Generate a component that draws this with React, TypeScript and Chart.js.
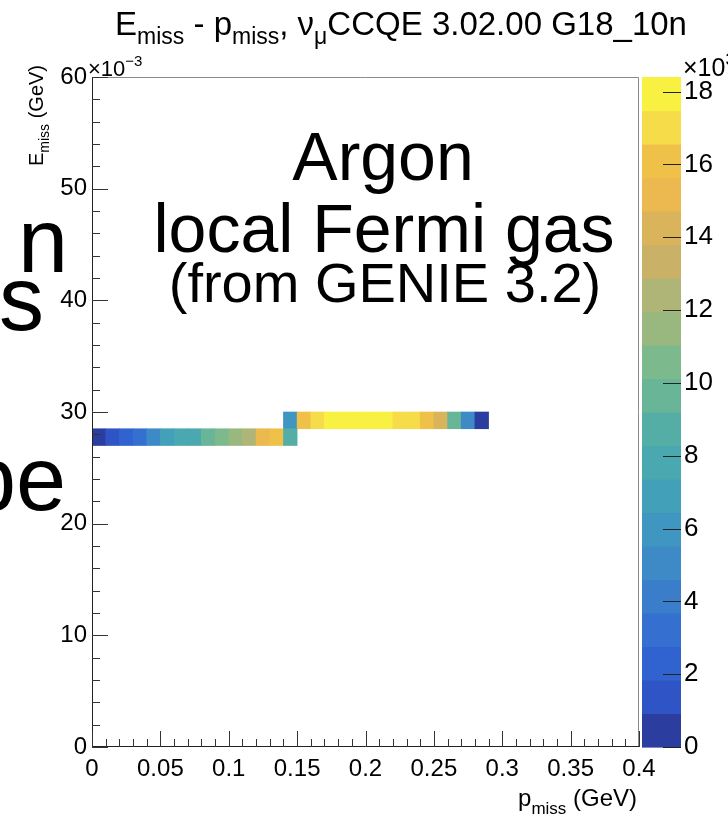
import React, { useEffect, useRef } from "react";
import { Chart, registerables } from "chart.js";

Chart.register(...registerables);

const FONT = '"Liberation Sans", Arial, Helvetica, sans-serif';

// p_miss bin centres (GeV), 10 MeV bins
const lowerRowPMiss = [0.005, 0.015, 0.025, 0.035, 0.045, 0.055, 0.065, 0.075, 0.085, 0.095, 0.105, 0.115, 0.125, 0.135, 0.145];
// E_miss band edges (x10^-3 GeV)
const lowerRowEMiss = [27.0, 28.5];
// entries per bin (x10^3)
const lowerRowCounts = [0.6, 1.4, 2.3, 3.2, 4.7, 6.6, 7.6, 8.0, 9.3, 10.8, 11.5, 12.5, 15.2, 16.0, 8.4];

const upperRowPMiss = [0.145, 0.155, 0.165, 0.175, 0.185, 0.195, 0.205, 0.215, 0.225, 0.235, 0.245, 0.255, 0.265, 0.275, 0.285];
const upperRowEMiss = [28.5, 30.0];
const upperRowCounts = [5.8, 16.3, 17.0, 18.0, 18.2, 18.3, 18.1, 17.9, 17.4, 17.3, 16.1, 14.2, 9.6, 5.0, 0.8];

const pMissTickLabels = ["0", "0.05", "0.1", "0.15", "0.2", "0.25", "0.3", "0.35", "0.4"];
const eMissTickLabels = ["0", "10", "20", "30", "40", "50", "60"];
const countTickLabels = ["0", "2", "4", "6", "8", "10", "12", "14", "16", "18"];
const COUNT_MAX = 18.4;

// 20-level palette, low to high
const paletteColors = [
  "#2b3d9f", "#2e54c6", "#3062d0", "#3570d0", "#3a7ecb",
  "#3d8ac6", "#3f96c0", "#42a0b8", "#4aa8b0", "#55aea6",
  "#68b598", "#7cb98c", "#98b880", "#aeb576", "#c9b268",
  "#dab45b", "#ebb94f", "#efc148", "#f7dc4a", "#f9f141",
];

const colorFor = (v: number) => {
  const n = paletteColors.length;
  const idx = Math.max(0, Math.min(n - 1, Math.floor((v / COUNT_MAX) * n)));
  return paletteColors[idx];
};

type Seg = { t: string; size: number; dy: number };

function drawRich(ctx: CanvasRenderingContext2D, segs: Seg[], x: number, y: number, align: "left" | "center" | "right") {
  ctx.textBaseline = "alphabetic";
  ctx.textAlign = "left";
  const widths = segs.map((s) => {
    ctx.font = `${s.size}px ${FONT}`;
    return ctx.measureText(s.t).width;
  });
  const total = widths.reduce((a, b) => a + b, 0);
  let cx = align === "left" ? x : align === "center" ? x - total / 2 : x - total;
  segs.forEach((s, i) => {
    ctx.font = `${s.size}px ${FONT}`;
    ctx.fillText(s.t, cx, y + s.dy);
    cx += widths[i];
  });
}

const rootStyle = {
  id: "rootStyle",
  beforeDraw(chart: any) {
    const { ctx, width, height } = chart;
    ctx.save();
    ctx.fillStyle = "#ffffff";
    ctx.fillRect(0, 0, width, height);
    ctx.restore();
  },
  afterDatasetsDraw(chart: any) {
    const { ctx, chartArea: a, scales } = chart;
    const xs = scales.x;
    const ys = scales.y;
    const zs = scales.z;
    ctx.save();

    // frame
    ctx.lineWidth = 1;
    ctx.strokeStyle = "#8a8a8a";
    ctx.beginPath();
    ctx.moveTo(a.left, a.top + 0.5);
    ctx.lineTo(a.right - 0.5, a.top + 0.5);
    ctx.lineTo(a.right - 0.5, a.bottom);
    ctx.stroke();
    ctx.strokeStyle = "#222";
    ctx.beginPath();
    ctx.moveTo(a.left + 0.5, a.top);
    ctx.lineTo(a.left + 0.5, a.bottom - 0.5);
    ctx.lineTo(a.right, a.bottom - 0.5);
    ctx.stroke();

    // inward ticks, 5 subdivisions per major interval
    ctx.strokeStyle = "#333";
    ctx.beginPath();
    const xt = xs.ticks.map((t: any) => t.value);
    xt.forEach((v: number, i: number) => {
      const px = Math.round(xs.getPixelForValue(v)) + 0.5;
      ctx.moveTo(px, a.bottom);
      ctx.lineTo(px, a.bottom - 16);
      if (i < xt.length - 1) {
        for (let k = 1; k < 5; k++) {
          const pm = Math.round(xs.getPixelForValue(v + ((xt[i + 1] - v) * k) / 5)) + 0.5;
          ctx.moveTo(pm, a.bottom);
          ctx.lineTo(pm, a.bottom - 8);
        }
      }
    });
    const yt = ys.ticks.map((t: any) => t.value);
    yt.forEach((v: number, i: number) => {
      const py = Math.round(ys.getPixelForValue(v)) + 0.5;
      ctx.moveTo(a.left, py);
      ctx.lineTo(a.left + 16, py);
      if (i < yt.length - 1) {
        for (let k = 1; k < 5; k++) {
          const pm = Math.round(ys.getPixelForValue(v + ((yt[i + 1] - v) * k) / 5)) + 0.5;
          ctx.moveTo(a.left, pm);
          ctx.lineTo(a.left + 8, pm);
        }
      }
    });
    ctx.stroke();

    // colour bar
    const cbLeft = a.right + 3;
    const cbWidth = 39;
    const n = paletteColors.length;
    for (let b = 0; b < n; b++) {
      const y0 = zs.getPixelForValue(((b + 1) * COUNT_MAX) / n);
      const y1 = zs.getPixelForValue((b * COUNT_MAX) / n);
      ctx.fillStyle = paletteColors[b];
      ctx.fillRect(cbLeft, y0, cbWidth, y1 - y0 + 0.6);
    }
    ctx.strokeStyle = "#222";
    ctx.beginPath();
    zs.ticks.forEach((t: any) => {
      const py = Math.round(zs.getPixelForValue(t.value)) + 0.5;
      ctx.moveTo(cbLeft + cbWidth, py);
      ctx.lineTo(cbLeft + cbWidth - 18, py);
    });
    ctx.stroke();

    ctx.fillStyle = "#000";
    // title
    drawRich(ctx, [
      { t: "E", size: 33, dy: 0 },
      { t: "miss", size: 23, dy: 9 },
      { t: " - p", size: 33, dy: 0 },
      { t: "miss", size: 23, dy: 9 },
      { t: ", \u03bd", size: 33, dy: 0 },
      { t: "\u03bc", size: 23, dy: 9 },
      { t: "CCQE 3.02.00 G18_10n", size: 33, dy: 0 },
    ], 401, 35, "center");

    // axis exponents
    drawRich(ctx, [
      { t: "\u00d710", size: 22, dy: 0 },
      { t: "\u22123", size: 15, dy: -10 },
    ], a.left - 4, a.top - 1, "left");
    drawRich(ctx, [
      { t: "\u00d710", size: 25, dy: 0 },
      { t: "3", size: 17, dy: -11 },
    ], cbLeft + 41, a.top - 1, "left");

    // x-axis title
    drawRich(ctx, [
      { t: "p", size: 24, dy: 0 },
      { t: "miss", size: 17, dy: 8 },
      { t: " (GeV)", size: 24, dy: 0 },
    ], a.right - 2, 806, "right");

    // y-axis title (rotated)
    ctx.save();
    ctx.translate(43, a.top - 12);
    ctx.rotate(-Math.PI / 2);
    drawRich(ctx, [
      { t: "E", size: 20, dy: 0 },
      { t: "miss", size: 14, dy: 6 },
      { t: " (GeV)", size: 20, dy: 0 },
    ], 0, 0, "right");
    ctx.restore();

    // annotation
    ctx.textAlign = "center";
    ctx.textBaseline = "alphabetic";
    ctx.font = `68px ${FONT}`;
    ctx.fillText("Argon", 383, 180);
    ctx.fillText("local Fermi gas", 384, 252);
    ctx.font = `56px ${FONT}`;
    ctx.fillText("(from GENIE 3.2)", 385, 302);

    // slide text at the left edge
    ctx.textAlign = "right";
    ctx.font = `90px ${FONT}`;
    ctx.fillText("n", 68, 272);
    ctx.fillText("s", 44, 330);
    ctx.fillText("be", 66, 510);

    ctx.restore();
  },
};

export default function App() {
  const canvasRef = useRef<HTMLCanvasElement | null>(null);

  useEffect(() => {
    if (!canvasRef.current) return;
    const chart = new Chart(canvasRef.current, {
      type: "bar",
      data: {
        datasets: [
          {
            data: lowerRowPMiss.map((p) => ({ x: p, y: lowerRowEMiss })) as any,
            backgroundColor: lowerRowCounts.map(colorFor),
          },
          {
            data: upperRowPMiss.map((p) => ({ x: p, y: upperRowEMiss })) as any,
            backgroundColor: upperRowCounts.map(colorFor),
          },
        ],
      },
      options: {
        responsive: false,
        animation: false,
        events: [],
        layout: { padding: { top: 77, left: 0, right: 0, bottom: 0 } },
        datasets: {
          bar: {
            grouped: false,
            categoryPercentage: 1,
            barPercentage: 1,
            borderWidth: 0,
          },
        } as any,
        plugins: {
          legend: { display: false },
          tooltip: { enabled: false },
          title: { display: false },
        },
        scales: {
          x: {
            type: "linear",
            min: 0,
            max: 0.4,
            offset: false,
            grid: { display: false, drawTicks: false, offset: false },
            border: { display: false },
            afterBuildTicks: (s: any) => {
              s.ticks = pMissTickLabels.map((l) => ({ value: Number(l) }));
            },
            afterFit: (s: any) => {
              s.height = 74;
            },
            ticks: {
              autoSkip: false,
              maxRotation: 0,
              padding: 8,
              color: "#000",
              font: { family: FONT, size: 24 },
              callback: (_v: any, i: number) => pMissTickLabels[i],
            },
          },
          y: {
            type: "linear",
            min: 0,
            max: 60,
            grid: { display: false, drawTicks: false },
            border: { display: false },
            afterBuildTicks: (s: any) => {
              s.ticks = eMissTickLabels.map((l) => ({ value: Number(l) }));
            },
            afterFit: (s: any) => {
              s.width = 92;
            },
            ticks: {
              autoSkip: false,
              padding: 5,
              color: "#000",
              font: { family: FONT, size: 24 },
              callback: (_v: any, i: number) => eMissTickLabels[i],
            },
          },
          z: {
            type: "linear",
            position: "right",
            min: 0,
            max: COUNT_MAX,
            grid: { display: false, drawTicks: false },
            border: { display: false },
            afterBuildTicks: (s: any) => {
              s.ticks = countTickLabels.map((l) => ({ value: Number(l) }));
            },
            afterFit: (s: any) => {
              s.width = 89;
            },
            ticks: {
              autoSkip: false,
              padding: 45,
              color: "#000",
              font: { family: FONT, size: 26 },
              callback: (_v: any, i: number) => countTickLabels[i],
            },
          },
        },
      } as any,
      plugins: [rootStyle],
    });
    return () => chart.destroy();
  }, []);

  return (
    <div style={{ position: "absolute", left: 0, top: 0, width: 728, height: 821, background: "#fff" }}>
      <canvas ref={canvasRef} width={728} height={821} style={{ display: "block" }} />
    </div>
  );
}
